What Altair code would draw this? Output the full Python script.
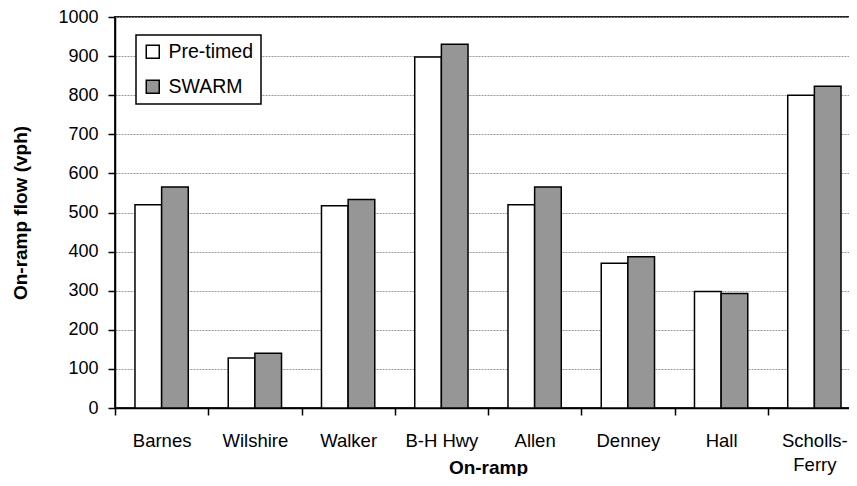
import altair as alt
import pandas as pd

ramps = ["Barnes", "Wilshire", "Walker", "B-H Hwy", "Allen", "Denney", "Hall", "Scholls-Ferry"]
pretimed = [520, 128, 517, 898, 520, 370, 298, 800]
swarm = [565, 140, 533, 930, 565, 387, 293, 823]
series = ["Pre-timed", "SWARM"]
colors = ["#ffffff", "#969696"]
y_ticks = list(range(0, 1001, 100))

rows = []
for r, a, b in zip(ramps, pretimed, swarm):
    rows.append({"ramp": r, "series": series[0], "flow": a})
    rows.append({"ramp": r, "series": series[1], "flow": b})
df = pd.DataFrame(rows)

FONT = "Liberation Sans"

chart = alt.Chart(df).mark_bar(stroke="black", strokeWidth=1.5).encode(
    x=alt.X(
        "ramp:N",
        sort=ramps,
        scale=alt.Scale(paddingInner=0, paddingOuter=0),
        axis=alt.Axis(
            title="On-ramp",
            labelAngle=0,
            labelFontSize=18.5,
            labelFont=FONT,
            labelColor="black",
            labelPadding=16,
            labelLineHeight=24,
            labelExpr="datum.value == 'Scholls-Ferry' ? ['Scholls-', 'Ferry'] : datum.value",
            tickBand="extent",
            tickSize=7,
            tickColor="black",
            tickWidth=1.5,
            domainColor="black",
            domainWidth=1.5,
            grid=False,
            titleFont=FONT,
            titleFontSize=19,
            titleFontWeight="bold",
            titleColor="black",
            titleBaseline="alphabetic",
            titleY=65,
        ),
    ),
    xOffset=alt.XOffset("series:N", sort=series,
                        scale=alt.Scale(paddingInner=0, paddingOuter=0.75)),
    y=alt.Y(
        "flow:Q",
        scale=alt.Scale(domain=[0, 1000], nice=False),
        axis=alt.Axis(
            title="On-ramp flow (vph)",
            values=y_ticks,
            format="d",
            labelFontSize=18,
            labelFont=FONT,
            labelColor="black",
            labelPadding=10,
            tickSize=7,
            tickColor="black",
            tickWidth=1.5,
            domainColor="black",
            domainWidth=1.5,
            gridColor="#9a9a9a",
            gridDash=[2, 1],
            gridWidth=1,
            titleFont=FONT,
            titleFontSize=19,
            titleFontWeight="bold",
            titleColor="black",
            titleBaseline="alphabetic",
            titleX=-89,
        ),
    ),
    fill=alt.Fill(
        "series:N",
        sort=series,
        scale=alt.Scale(domain=series, range=colors),
        legend=alt.Legend(
            title=None,
            orient="none",
            legendX=21,
            legendY=18,
            direction="vertical",
            symbolType="square",
            symbolSize=169,
            symbolStrokeColor="black",
            symbolStrokeWidth=1.5,
            labelFontSize=19.5,
            labelFont=FONT,
            labelColor="black",
            labelOffset=6,
            rowPadding=14,
            padding=7,
            strokeColor="black",
            fillColor="white",
        ),
    ),
).properties(
    width=746,
    height=391,
    padding={"left": 107, "top": 9, "right": -12, "bottom": 68},
    autosize=alt.AutoSizeParams(type="none"),
).configure_view(
    stroke="#222222",
    strokeWidth=2,
).configure_legend(
    strokeWidth=1.5,
)

chart.save("out.html", embed_options={"renderer": "svg", "actions": False})
